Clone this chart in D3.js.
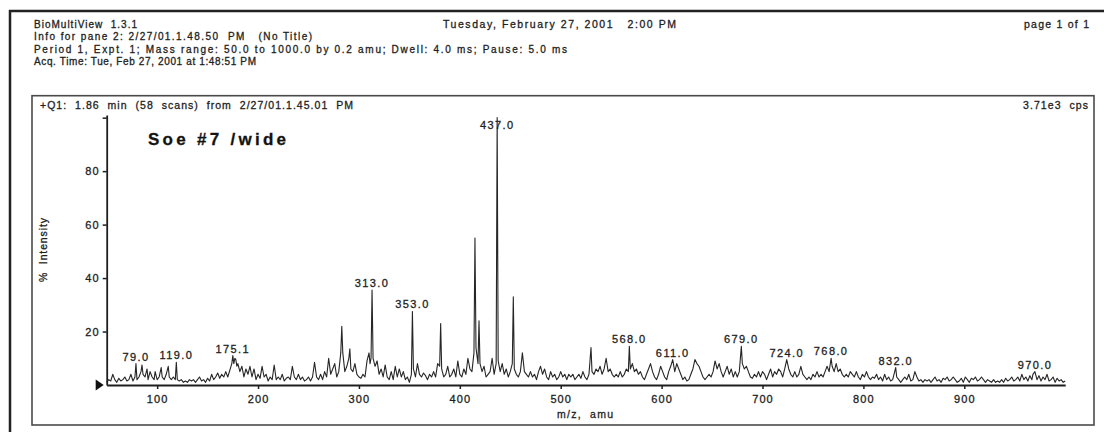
<!DOCTYPE html>
<html>
<head>
<meta charset="utf-8">
<script src="https://cdn.jsdelivr.net/npm/d3@7"></script>
<style>
  body { margin: 0; background: #fff; }
  svg { display: block; font-family: "Liberation Sans", Arial, sans-serif; }
  text { stroke: #1e1e1e; stroke-width: 0.3px; }
</style>
</head>
<body>
<svg id="chart" width="1104" height="432"></svg>
<script>

// header text of the printout
const headerLines = [
  "BioMultiView  1.3.1",
  "Info for pane 2: 2/27/01.1.48.50  PM   (No Title)",
  "Period 1, Expt. 1; Mass range: 50.0 to 1000.0 by 0.2 amu; Dwell: 4.0 ms; Pause: 5.0 ms",
  "Acq. Time: Tue, Feb 27, 2001 at 1:48:51 PM"
];
const headerDate = "Tuesday, February 27, 2001   2:00 PM";
const headerPage = "page 1 of 1";
const paneTitle = "+Q1:  1.86  min  (58  scans)  from  2/27/01.1.45.01  PM";
const paneScale = "3.71e3  cps";
const sampleName = "Soe #7 /wide";
const xLabel = "m/z,  amu";
const yLabel = "%  Intensity";

const xTicks = [100, 200, 300, 400, 500, 600, 700, 800, 900];
const yTicks = [20, 40, 60, 80, 100];

// [m/z, % intensity]
const spectrum = [
  [50,1],[52,2],[54,1.5],[56,4],[58,2],[60,1],[62,2.5],[64,1.5],[66,2],[68,3],[70,1.5],[72,2],[74,4],[76,1.5],[78,3],[79,8],[80,2],
  [82,3],[84,5],[85,7.5],[86,4],[88,3],[90,6],[91,2],[93,5],[95,3],[97,2],[98,5],[100,2],[102,3],[104,6.5],[105,3],[107,2],[109,4],
  [111,7],[112,3],[114,2],[116,3],[118,2],[119,8.5],[120,2],[122,1.5],[124,2],[126,1],[128,1.5],[130,1],[132,2],[134,1.5],[136,2],
  [138,1],[140,2],[142,3],[144,1.5],[146,2],[148,1],[150,2.5],[152,1.5],[154,4],[156,2],[158,3],[160,4.5],[162,2.5],[164,4],[166,3],
  [168,5],[170,3],[172,5.5],[174,8],[175,11],[176,8],[177,10],[178,9.5],[179,7],[180,8],[182,5],[184,7],[186,3],[188,6],[190,4],
  [192,7],[194,3],[196,6],[198,2],[200,4],[202,2.5],[204,7],[206,3],[208,4],[210,1.5],[212,3],[214,2],[216,7.5],[218,2],[220,3],
  [222,2],[224,4],[226,1.5],[228,2.5],[230,3],[232,2],[234,7],[236,3],[238,2],[240,4],[242,2],[244,3],[246,1.5],[248,2],[250,3],
  [252,1.5],[254,3],[256,8.5],[258,3],[260,2],[262,4],[264,2],[266,5],[268,3],[270,10],[272,4],[274,6],[276,8],[278,3],[280,5],
  [282,12],[283,22],[284,12],[286,5],[288,7],[290,10],[291,13.5],[292,6],[294,5],[296,8],[298,4],[300,3],[302,2.5],[304,4],[306,3],
  [308,9],[310,12],[311,8],[312,10],[313,35.5],[314,10],[316,7],[318,9],[320,4],[322,6],[324,3],[326,7.5],[328,3],[330,2],[332,5],
  [334,2],[336,7],[338,3],[340,6],[342,3],[344,5],[346,2],[348,3],[350,1],[352,4],[353,27.5],[354,6],[356,3],[358,8],[360,4],
  [362,3],[364,4.5],[366,3.5],[368,2],[370,4],[372,3],[374,5],[376,3],[378,8],[380,7],[381,23],[382,6],[384,3],[386,4],[388,7],
  [390,3],[392,4],[394,6],[396,3],[398,9],[400,4],[402,3],[404,6],[406,4],[408,10],[410,6],[412,5],[414,12],[415,55],[416,14],
  [418,8],[419,24],[420,8],[422,5],[424,7],[426,3],[428,4],[430,5],[432,10],[434,4],[436,8],[437,100],[438,9],[440,5],[442,8],
  [444,4],[446,6],[448,3],[450,5],[452,8],[453,33],[454,6],[456,4],[458,3],[460,5],[462,12],[464,5],[466,4],[468,3],[470,5],
  [472,3],[474,4],[476,2],[478,5],[480,7],[482,4],[484,6],[486,3],[488,2],[490,5],[492,3],[494,4],[496,2],[498,3],[500,5],[502,3],
  [504,4],[506,2],[508,4],[510,3],[512,4],[514,2],[516,3],[518,4],[520,2.5],[522,5],[524,3],[526,2],[528,4],[530,14],[531,5],
  [533,4],[535,6],[537,5],[539,7],[541,4],[543,6],[545,10],[547,5],[549,6],[551,4],[553,3],[555,4],[557,3],[559,5],[561,3],[563,4],
  [565,6],[567,5],[568,14.5],[569,6],[571,8],[573,5],[575,6],[577,4],[579,5],[581,3],[583,2],[585,4],[587,6],[589,8],[591,5],
  [593,3],[595,2],[597,4],[599,7],[601,5],[603,3],[605,2],[607,5],[609,7],[611,9.5],[613,5],[615,8],[617,6],[619,4],[621,2],
  [623,3],[625,1.5],[627,2],[629,4],[631,6],[633,9.5],[635,8],[637,7],[639,5],[641,3],[643,2],[645,3],[647,4],[649,3],[651,5],
  [653,9],[655,6],[657,8],[659,5],[661,3],[663,5],[665,7],[667,4],[669,6],[671,3],[673,5],[675,3],[677,5],[679,14.5],[680,8],
  [682,6],[684,7],[686,5],[688,3],[690,2.5],[692,4],[694,3],[696,5],[698,3],[700,5],[702,4],[704,2],[706,4],[708,6],[710,3],
  [712,5],[714,4],[716,6],[718,5],[720,3],[722,6],[724,9.5],[726,6],[728,4],[730,3],[732,5],[734,3],[736,4],[738,7],[740,4],
  [742,3],[744,2],[746,3],[748,2],[750,4],[752,3],[754,5],[756,3],[758,4],[760,3],[762,5],[764,7],[766,5],[768,10],[769,7],
  [771,5],[773,8],[775,5],[777,6],[779,4],[781,3],[783,4],[785,3],[787,5],[789,4],[791,3],[793,5],[795,3],[797,2],[799,4],
  [801,3],[803,5],[805,3],[807,2],[809,3],[811,2.5],[813,4],[815,2],[817,3],[819,1.5],[821,4],[823,2],[825,3],[827,1.5],[829,2],
  [832,6.5],[833,3],[835,2],[837,1],[839,2],[841,3],[843,2],[845,4],[847,1.5],[849,2],[851,5],[853,3],[855,1.5],[857,2],[859,1],
  [861,2],[863,1.5],[865,2],[867,1],[869,2],[871,3],[873,1.5],[875,2],[877,1],[879,2.5],[881,2],[883,3],[885,1.5],[887,2],[889,3],
  [891,2],[893,1],[895,1.5],[897,2.5],[899,1],[901,3],[903,2],[905,1],[907,2.5],[909,2],[911,3],[913,1.5],[915,2],[917,3],[919,2],
  [921,1],[923,2],[925,1.5],[927,1],[929,2],[931,1],[933,1.5],[935,1],[937,2],[939,1],[941,2.5],[943,1.5],[945,2],[947,3],[949,1.5],
  [951,2],[953,3],[955,1.5],[957,4],[959,2],[961,3],[963,1.5],[965,3.5],[967,2],[968,4],[970,5],[972,2],[974,3.5],[976,1.5],
  [978,3],[980,2],[982,4],[984,1.5],[986,2],[988,3],[990,1],[992,2.5],[994,1.5],[996,2],[998,1],[1000,1.5]
];

// labelled peaks: [m/z, label]
const peakLabels = [
  [79, "79.0"], [119, "119.0"], [175, "175.1"], [313, "313.0"], [353, "353.0"], [437, "437.0"],
  [568, "568.0"], [611, "611.0"], [679, "679.0"], [724, "724.0"], [768, "768.0"], [832, "832.0"], [970, "970.0"]
];

const svg = d3.select("#chart");
const ink = "#1e1e1e";

// page frame (only top and left edges are on the sheet)
svg.append("rect")
  .attr("x", 10).attr("y", 11)
  .attr("width", 1200).attr("height", 500)
  .attr("fill", "none").attr("stroke", "#222").attr("stroke-width", 2.5);

// header
const headerWidths = [103, 278, 533, 222];
svg.selectAll(".hdr")
  .data(headerLines)
  .enter()
  .append("text")
  .attr("class", "hdr")
  .attr("x", 34)
  .attr("y", (d, i) => 28 + i * 12.4)
  .attr("textLength", (d, i) => headerWidths[i])
  .attr("lengthAdjust", "spacing")
  .attr("font-size", 10)
  .attr("fill", ink)
  .style("white-space", "pre")
  .text(d => d);

svg.append("text")
  .attr("x", 443).attr("y", 28)
  .attr("textLength", 233).attr("lengthAdjust", "spacing")
  .attr("font-size", 10.5).attr("fill", ink)
  .style("white-space", "pre")
  .text(headerDate);

svg.append("text")
  .attr("x", 1024).attr("y", 28)
  .attr("textLength", 65).attr("lengthAdjust", "spacing")
  .attr("font-size", 10.5).attr("fill", ink)
  .text(headerPage);

// pane box
svg.append("rect")
  .attr("x", 32).attr("y", 95.7)
  .attr("width", 1062).attr("height", 329.3)
  .attr("fill", "none").attr("stroke", "#4a4a4a").attr("stroke-width", 1.6);

svg.append("text")
  .attr("x", 40).attr("y", 109)
  .attr("textLength", 313).attr("lengthAdjust", "spacing")
  .attr("font-size", 10.5).attr("fill", ink)
  .style("white-space", "pre")
  .text(paneTitle);

svg.append("text")
  .attr("x", 1023).attr("y", 109)
  .attr("textLength", 65).attr("lengthAdjust", "spacing")
  .attr("font-size", 10.5).attr("fill", ink)
  .style("white-space", "pre")
  .text(paneScale);

// scales
const x = d3.scaleLinear().domain([50, 1000]).range([106.7, 1065.2]);
const y = d3.scaleLinear().domain([0, 101]).range([385, 115]);

// spectrum trace
const line = d3.line()
  .x(d => x(d[0]))
  .y(d => y(d[1]));

svg.append("path")
  .datum(spectrum)
  .attr("d", line)
  .attr("fill", "none")
  .attr("stroke", "#262626")
  .attr("stroke-width", 1.1)
  .attr("stroke-linejoin", "round");

// axes
const xAxis = svg.append("g")
  .attr("transform", `translate(0,${y(0)})`)
  .call(d3.axisBottom(x).tickValues(xTicks).tickSize(4).tickSizeOuter(0).tickPadding(6));

const yAxis = svg.append("g")
  .attr("transform", `translate(${x(50)},0)`)
  .call(d3.axisLeft(y).tickValues(yTicks).tickSize(4).tickSizeOuter(0).tickPadding(3)
    .tickFormat(d => d === 100 ? "" : d));

[xAxis, yAxis].forEach(g => {
  g.select(".domain").attr("stroke", ink).attr("stroke-width", 1.8);
  g.selectAll(".tick line").attr("stroke", ink).attr("stroke-width", 1.5);
  g.selectAll(".tick text")
    .attr("fill", ink)
    .attr("font-size", 11)
    .attr("font-family", "Liberation Sans, Arial, sans-serif")
    .style("letter-spacing", "1.1px");
});

// start marker on baseline
const tri = d3.path();
tri.moveTo(x(50) - 11, y(0) - 5.5);
tri.lineTo(x(50) - 3, y(0));
tri.lineTo(x(50) - 11, y(0) + 5.5);
tri.closePath();
svg.append("path").attr("d", tri.toString()).attr("fill", "#111");

// axis titles
svg.append("text")
  .attr("x", 585).attr("y", 418)
  .attr("text-anchor", "middle")
  .attr("textLength", 56).attr("lengthAdjust", "spacing")
  .attr("font-size", 10.5).attr("fill", ink)
  .style("white-space", "pre")
  .text(xLabel);

svg.append("text")
  .attr("transform", "translate(47,250) rotate(-90)")
  .attr("text-anchor", "middle")
  .attr("textLength", 64).attr("lengthAdjust", "spacing")
  .attr("font-size", 10.5).attr("fill", ink)
  .style("white-space", "pre")
  .text(yLabel);

// sample name
svg.append("text")
  .attr("x", 148).attr("y", 145)
  .attr("textLength", 138).attr("lengthAdjust", "spacing")
  .attr("font-size", 17).attr("font-weight", "bold").attr("fill", "#111")
  .style("white-space", "pre")
  .text(sampleName);

// peak labels
const peakValue = new Map(spectrum);
svg.selectAll(".peak")
  .data(peakLabels)
  .enter()
  .append("text")
  .attr("class", "peak")
  .attr("x", d => x(d[0]))
  .attr("y", d => Math.max(y(peakValue.get(d[0])) - 3, 129))
  .attr("text-anchor", "middle")
  .attr("font-size", 11)
  .attr("fill", ink)
  .style("letter-spacing", "1.4px")
  .text(d => d[1]);

</script>
</body>
</html>
